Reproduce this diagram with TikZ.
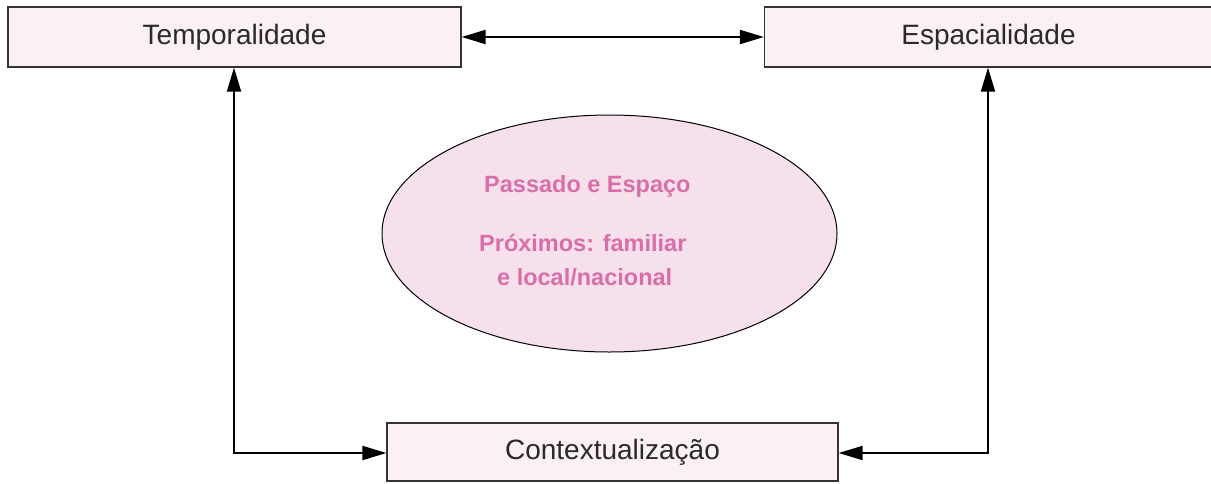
\documentclass[tikz,border=0pt]{standalone}
\usepackage{fontspec}
\setmainfont{Liberation Sans}
\usetikzlibrary{arrows.meta,shapes.geometric}
\definecolor{boxfill}{HTML}{FAF0F5}
\definecolor{ellfill}{HTML}{F6E0EC}
\definecolor{pinktext}{HTML}{D96FA8}
\definecolor{lbl}{HTML}{2A2A2A}
\tikzset{
  boxnode/.style={draw=black!80, line width=1.2pt, fill=boxfill, inner sep=0pt, text=lbl, font=\fontsize{28}{32}\selectfont},
  conn/.style={line width=1.8pt, {Triangle[length=24pt,width=14pt]}-{Triangle[length=24pt,width=14pt]}},
  elltext/.style={text=pinktext, font=\bfseries\fontsize{23.5}{27}\selectfont, anchor=base west, inner sep=0pt}
}
\begin{document}
\begin{tikzpicture}[x=1pt,y=-1pt]
\useasboundingbox (0,0) rectangle (1211,483);
\node[boxnode, minimum width=453pt, minimum height=60pt] (temp) at (234.5,37) {Temporalidade};
\node[boxnode, minimum width=448pt, minimum height=60pt] (esp) at (988.5,37) {Espacialidade};
\node[boxnode, minimum width=451pt, minimum height=58pt] (ctx) at (612.5,452) {Contextualização};
\node[draw=black, line width=1pt, fill=ellfill, ellipse, minimum width=455pt, minimum height=237pt, inner sep=0pt] (ell) at (609.5,233.5) {};
\node[elltext] (t1) at (484,192) {Passado e Espaço};
\node[elltext] (t2) at (479,251) {Próximos: familiar};
\node[elltext] (t3) at (497,285) {e local/nacional};
\draw[conn] (temp.east) -- (esp.west);
\coordinate (lc) at (234,453);
\coordinate (rc) at (988,453);
\draw[conn] (temp.south -| lc) -- (lc) -- (ctx.west |- lc);
\draw[conn] (esp.south -| rc) -- (rc) -- (ctx.east |- rc);
\end{tikzpicture}
\end{document}
